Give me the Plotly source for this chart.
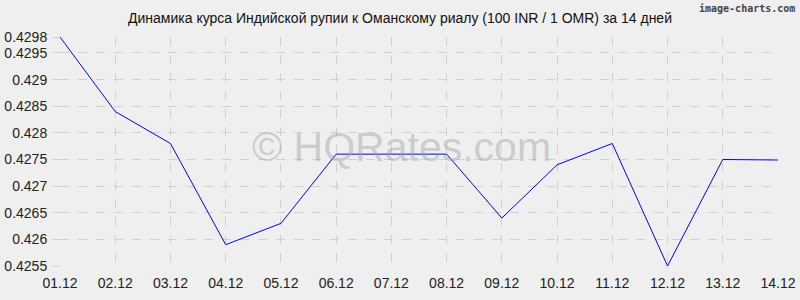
import plotly.graph_objects as go

dates = ["01.12", "02.12", "03.12", "04.12", "05.12", "06.12", "07.12",
         "08.12", "09.12", "10.12", "11.12", "12.12", "13.12", "14.12"]
rates = [0.4298, 0.4284, 0.4278, 0.4259, 0.4263, 0.4276, 0.4276,
         0.4276, 0.4264, 0.4274, 0.4278, 0.4255, 0.4275, 0.42749]
ytick_vals = [0.4255, 0.426, 0.4265, 0.427, 0.4275, 0.428, 0.4285, 0.429, 0.4295, 0.4298]
ytick_text = ["0.4255", "0.426", "0.4265", "0.427", "0.4275", "0.428", "0.4285", "0.429", "0.4295", "0.4298"]
title = "Динамика курса Индийской рупии к Оманскому риалу (100 INR / 1 OMR) за 14 дней"

fig = go.Figure()
fig.add_trace(go.Scatter(x=list(range(len(dates))), y=rates, mode="lines",
                         line=dict(color="#0000ff", width=1), hoverinfo="skip"))

fig.update_layout(
    width=800, height=300,
    margin=dict(l=60, r=22, t=37, b=34),
    paper_bgcolor="#efefef", plot_bgcolor="#efefef",
    font=dict(family="Liberation Sans, Arial, sans-serif", color="#222222", size=14),
    showlegend=False,
    title=dict(text=title, x=0.5, xanchor="center", y=0.94, yanchor="middle",
               font=dict(size=14, color="#111111")),
    xaxis=dict(
        range=[0, len(dates) - 1],
        tickvals=list(range(len(dates))), ticktext=dates,
        showgrid=True, gridcolor="#d0d0d0", griddash="dash", gridwidth=1,
        zeroline=False, showline=False, ticks="", ticklen=0,
        ticklabelstandoff=7, automargin=False,
        tickfont=dict(size=14, color="#222222"),
    ),
    yaxis=dict(
        range=[0.4255, 0.4298],
        tickvals=ytick_vals, ticktext=ytick_text,
        showgrid=True, gridcolor="#d0d0d0", griddash="dash", gridwidth=1,
        zeroline=False, showline=False, ticks="outside", ticklen=6, tickcolor="#cccccc",
        ticklabelstandoff=3, automargin=False,
        tickfont=dict(size=14, color="#222222"),
    ),
    annotations=[
        dict(text="© HQRates.com", xref="paper", yref="paper", x=0.475, y=0.52,
             showarrow=False, font=dict(size=41, color="rgba(160,160,160,0.45)",
                                        family="Liberation Sans, Arial, sans-serif")),
        dict(text="<b>image-charts.com</b>", xref="paper", yref="paper", x=1.027, y=1.125,
             xanchor="right", yanchor="middle", showarrow=False,
             font=dict(size=10, color="#444444", family="DejaVu Sans Mono, monospace")),
    ],
)

fig.write_html("out.html")
